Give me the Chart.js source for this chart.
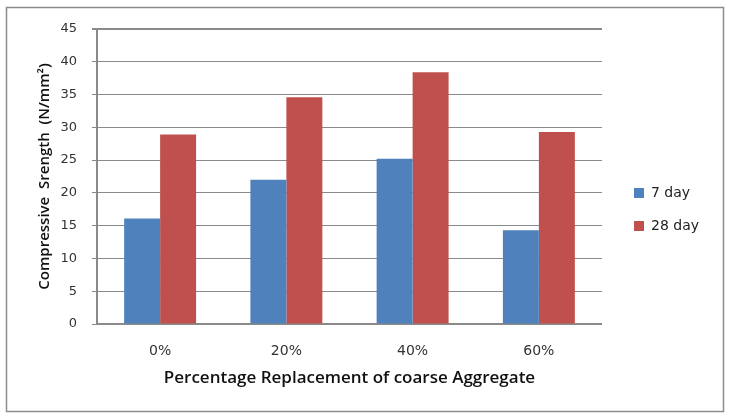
<!DOCTYPE html>
<html>
<head>
<meta charset="utf-8">
<script src="https://cdn.jsdelivr.net/npm/chart.js@4"></script>
<style>
  html, body { margin: 0; padding: 0; background: #fff; }
  #wrap { position: relative; width: 737px; height: 419px; }
</style>
</head>
<body>
<div id="wrap"><canvas id="myChart" width="737" height="419"></canvas></div>
<script>
// data
const labels = ['0%', '20%', '40%', '60%'];
const day7 = [16.1, 22.0, 25.2, 14.3];
const day28 = [28.9, 34.6, 38.4, 29.3];
const yTicks = [0, 5, 10, 15, 20, 25, 30, 35, 40, 45];

const grey = '#8a8a8a';

// outer frame like the Excel chart border
const frame = {
    id: 'frame',
    afterDraw(chart) {
        const ctx = chart.ctx;
        ctx.save();
        ctx.strokeStyle = '#8c8c8c';
        ctx.lineWidth = 1.5;
        ctx.strokeRect(6.5, 7.5, 717, 404);
        ctx.restore();
    }
};

// leave some white space between plot and legend
const legendSpace = {
    id: 'legendSpace',
    afterInit(chart) {
        const lg = chart.legend;
        const fit = lg.fit;
        lg.fit = function () {
            fit.call(this);
            this.width += 21;
        };
    },
    afterLayout(chart) {
        chart.legend.left += 13;
        chart.legend.top += 2;
    }
};

const data = {
    labels: labels,
    datasets: [
        {
            label: '7 day',
            backgroundColor: '#4F81BD',
            data: day7,
        },
        {
            label: '28 day',
            backgroundColor: '#C0504D',
            data: day28,
        },
    ]
};

const config = {
    type: 'bar',
    data: data,
    plugins: [frame, legendSpace],
    options: {
        responsive: false,
        animation: false,
        layout: { padding: { left: 36, top: 29, right: 20, bottom: 31 } },
        datasets: {
            bar: { categoryPercentage: 0.57, barPercentage: 1.0 }
        },
        plugins: {
            tooltip: { enabled: false },
            legend: {
                position: 'right',
                labels: {
                    boxWidth: 10,
                    boxHeight: 10,
                    padding: 19,
                    color: '#222',
                    font: { family: 'DejaVu Sans', size: 14 }
                }
            }
        },
        scales: {
            x: {
                afterFit(scale) {
                    scale.height = 64;
                },
                grid: { display: false, drawTicks: false },
                border: { color: grey, width: 2 },
                ticks: {
                    padding: 19,
                    color: '#333',
                    font: { family: 'DejaVu Sans', size: 14 }
                },
                title: {
                    display: true,
                    text: 'Percentage Replacement of coarse Aggregate',
                    color: '#111',
                    font: { family: 'Open Sans', size: 17, weight: '600' },
                    padding: { top: 9, bottom: 0 }
                }
            },
            y: {
                min: 0,
                max: 45,
                afterBuildTicks(scale) {
                    scale.ticks = yTicks.map(v => ({ value: v }));
                },
                afterFit(scale) {
                    scale.width = 61;
                },
                grid: {
                    color: grey,
                    lineWidth: c => (c.tick && c.tick.value === 45 ? 2 : 1),
                    tickLength: 5
                },
                border: { color: grey, width: 2 },
                ticks: {
                    padding: 15,
                    color: '#333',
                    font: { family: 'DejaVu Sans', size: 13 }
                },
                title: {
                    display: true,
                    text: 'Compressive  Srength  (N/mm²)',
                    color: '#111',
                    font: { family: 'Open Sans', size: 15, weight: '600' },
                    padding: { top: 0, bottom: 6 }
                }
            }
        }
    }
};

const myChart = new Chart(
    document.getElementById('myChart'),
    config
);
</script>
</body>
</html>
